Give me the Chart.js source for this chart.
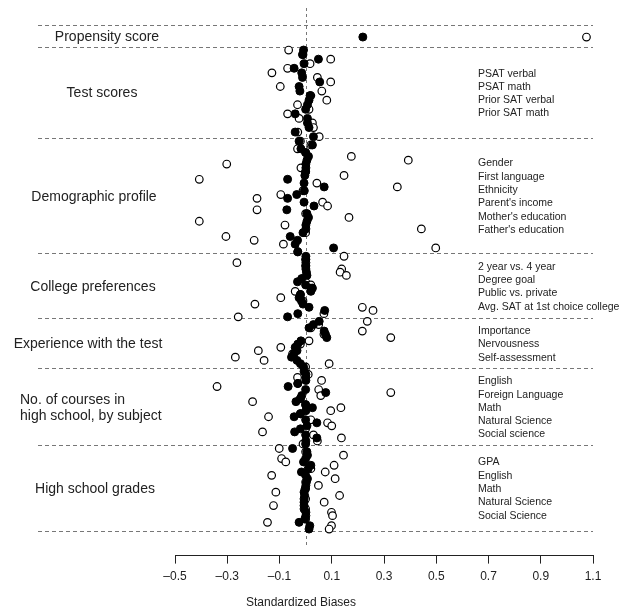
<!DOCTYPE html>
<html>
<head>
<meta charset="utf-8">
<script src="https://cdn.jsdelivr.net/npm/chart.js@4/dist/chart.umd.min.js"></script>
<style>
  body { margin: 0; background: #fff; }
  #wrap { width: 625px; height: 612px; }
</style>
</head>
<body>
<div id="wrap"><canvas id="bias-chart" width="625" height="612"></canvas></div>
<script>
// standardized biases before (open) and after (filled) matching
var tickValues = [-0.5, -0.3, -0.1, 0.1, 0.3, 0.5, 0.7, 0.9, 1.1];

var groupNames = ['Propensity score', 'Test scores', 'Demographic profile', 'College preferences',
    'Experience with the test', 'No. of courses in\nhigh school, by subject', 'High school grades'];

var testVars = ['PSAT verbal', 'PSAT math', 'Prior SAT verbal', 'Prior SAT math'];
var demoVars = ['Gender', 'First language', 'Ethnicity', "Parent's income", "Mother's education", "Father's education"];
var collegeVars = ['2 year vs. 4 year', 'Degree goal', 'Public vs. private', 'Avg. SAT at 1st choice college'];
var experienceVars = ['Importance', 'Nervousness', 'Self-assessment'];
var courseVars = ['English', 'Foreign Language', 'Math', 'Natural Science', 'Social science'];
var gradeVars = ['GPA', 'English', 'Math', 'Natural Science', 'Social Science'];

var propensityBefore = [1.075];
var propensityAfter = [0.219];

var testBefore = [-0.065, -0.01, 0.096, 0.017, -0.069, -0.129, 0.045, 0.096, -0.097, 0.062,
    0.02, 0.081, -0.031, 0.013, -0.069, -0.025, 0.026, 0.03, -0.03, 0.052];
var testAfter = [-0.008, -0.012, 0.049, -0.006, -0.044, -0.015, -0.012, 0.054, -0.025, -0.022,
    0.017, 0.013, 0.007, 0.0, -0.040, 0.007, 0.007, 0.013, -0.040, 0.030];

var demoBefore = [-0.02, 0.02, -0.031, 0.0, 0.175, 0.393, -0.302, -0.018, 0.0, 0.147,
    -0.407, 0.043, 0.351, -0.01, -0.095, -0.186, 0.065, 0.084, -0.186, 0.0,
    0.166, -0.407, -0.079, 0.443, 0.0, -0.305, -0.197, -0.085, 0.498, -0.03];
var demoAfter = [-0.025, 0.026, -0.018, 0.0, 0.011, 0.005, 0.001, 0.001, 0.0, -0.003,
    -0.069, -0.006, 0.071, -0.005, -0.034, -0.069, -0.006, 0.032, -0.072, 0.005,
    0.011, 0.005, 0.001, 0.001, -0.01, -0.059, -0.031, -0.04, 0.107, -0.03];

var collegeBefore = [0.147, 0.0, -0.263, 0.0, 0.138, 0.132, 0.156, -0.01, 0.0, 0.02,
    0.02, -0.040, -0.02, -0.095, -0.01, -0.194, 0.217, 0.258, 0.07, -0.258];
var collegeAfter = [0.001, 0.001, 0.001, 0.001, 0.001, 0.003, 0.005, -0.015, -0.031, 0.0,
    0.026, 0.02, -0.02, -0.025, -0.016, -0.01, 0.013, 0.073, -0.03, -0.069];

var experienceBefore = [0.236, 0.05, 0.02, 0.217, 0.07, 0.326, 0.013, -0.02, -0.095, -0.181,
    -0.05, -0.269, -0.159, 0.090, 0.0];
var experienceAfter = [0.052, 0.03, 0.013, 0.071, 0.076, 0.081, -0.018, -0.03, -0.040, -0.033,
    -0.045, -0.054, -0.033, -0.02, -0.008];

var courseBefore = [0.0, 0.01, -0.031, 0.061, -0.03, -0.339, 0.05, 0.326, 0.058, -0.02,
    -0.203, 0.0, 0.135, 0.096, -0.02, -0.142, 0.02, 0.084, 0.1, 0.0,
    -0.165, 0.03, 0.137, 0.045, -0.01];
var courseAfter = [-0.006, 0.001, 0.001, 0.001, -0.03, -0.067, 0.0, 0.077, -0.015, -0.02,
    -0.037, 0.0, 0.026, 0.001, -0.02, -0.044, 0.0, 0.043, 0.005, -0.02,
    -0.042, 0.0, 0.043, 0.001, 0.0];

var gradeBefore = [-0.101, 0.0, 0.145, -0.092, -0.076, 0.109, 0.02, 0.075, -0.130, 0.113,
    0.0, 0.049, 0.0, -0.114, 0.130, 0.0, 0.071, -0.123, 0.0, 0.099,
    0.103, 0.0, -0.146, 0.099, 0.090];
var gradeAfter = [-0.050, 0.005, 0.007, 0.0, -0.008, 0.020, 0.01, -0.016, 0.0, 0.007,
    0.003, 0.001, -0.002, -0.006, -0.004, -0.006, -0.006, -0.006, -0.006, 0.001,
    0.001, -0.003, -0.025, 0.016, 0.013];

// layout: band edges along the (hidden) vertical scale, top to bottom
var bandEdges = [17, 39, 130, 245, 310, 360, 437, 522];
var yMax = 547;
var labelCenters = [107, 102, 94, 93, 88, 20, 95];

var groups = [
    { name: groupNames[0], vars: [], before: propensityBefore, after: propensityAfter },
    { name: groupNames[1], vars: testVars, before: testBefore, after: testAfter },
    { name: groupNames[2], vars: demoVars, before: demoBefore, after: demoAfter },
    { name: groupNames[3], vars: collegeVars, before: collegeBefore, after: collegeAfter },
    { name: groupNames[4], vars: experienceVars, before: experienceBefore, after: experienceAfter },
    { name: groupNames[5], vars: courseVars, before: courseBefore, after: courseAfter },
    { name: groupNames[6], vars: gradeVars, before: gradeBefore, after: gradeAfter }
];

var openPts = [], filledPts = [];
groups.forEach(function(g, gi) {
    var a = bandEdges[gi], b = bandEdges[gi + 1], n = g.before.length;
    for (var i = 0; i < n; i++) {
        var y = n === 1 ? (a + b) / 2 + 1 : a + 3 + i * (b - a - 4.5) / (n - 1);
        openPts.push({ x: g.before[i], y: y });
        filledPts.push({ x: g.after[i], y: y });
    }
});

var textColor = '#222';
var fontFam = '"Liberation Sans", Arial, sans-serif';

var decorPlugin = {
    id: 'decor',
    beforeDatasetsDraw: function(chart) {
        var ctx = chart.ctx, xs = chart.scales.x, ys = chart.scales.y, area = chart.chartArea;
        ctx.save();
        ctx.strokeStyle = '#777';
        ctx.lineWidth = 1;
        ctx.setLineDash([4, 3]);
        bandEdges.forEach(function(e) {
            var py = Math.round(ys.getPixelForValue(e)) + 0.5;
            ctx.beginPath();
            ctx.moveTo(38, py);
            ctx.lineTo(area.right, py);
            ctx.stroke();
        });
        ctx.setLineDash([3, 3]);
        var px = Math.round(xs.getPixelForValue(0)) + 0.5;
        ctx.beginPath();
        ctx.moveTo(px, area.top);
        ctx.lineTo(px, area.bottom - 8);
        ctx.stroke();
        ctx.restore();
    },
    afterDatasetsDraw: function(chart) {
        var ctx = chart.ctx, ys = chart.scales.y;
        ctx.save();
        ctx.fillStyle = textColor;
        ctx.textBaseline = 'middle';
        groups.forEach(function(g, gi) {
            var mid = ys.getPixelForValue((bandEdges[gi] + bandEdges[gi + 1]) / 2);
            ctx.font = '14px ' + fontFam;
            var lines = g.name.split('\n');
            if (lines.length > 1) {
                ctx.textAlign = 'left';
                ctx.fillText(lines[0], labelCenters[gi], mid - 7);
                ctx.fillText(lines[1], labelCenters[gi], mid + 9);
            } else {
                ctx.textAlign = 'center';
                ctx.fillText(g.name, labelCenters[gi], mid + 1);
            }
            ctx.font = '10.5px ' + fontFam;
            ctx.textAlign = 'left';
            var n = g.vars.length;
            g.vars.forEach(function(v, i) {
                ctx.fillText(v, 478, mid + 1 + (i - (n - 1) / 2) * 13.3);
            });
        });
        ctx.font = '12px ' + fontFam;
        ctx.textAlign = 'center';
        ctx.fillText('Standardized Biases', 301, 603);
        ctx.restore();
    }
};

new Chart(document.getElementById('bias-chart'), {
    type: 'scatter',
    data: {
        datasets: [{
            label: 'After matching',
            data: filledPts,
            backgroundColor: '#000',
            borderColor: '#000',
            borderWidth: 1,
            pointRadius: 4,
            order: 0
        }, {
            label: 'Before matching',
            data: openPts,
            backgroundColor: '#fff',
            borderColor: '#000',
            borderWidth: 1.2,
            pointRadius: 3.8,
            order: 1
        }]
    },
    options: {
        responsive: false,
        animation: false,
        layout: { padding: { left: 175, right: 32, top: 8, bottom: 22 } },
        plugins: { legend: { display: false }, tooltip: { enabled: false } },
        scales: {
            x: {
                type: 'linear',
                min: -0.5,
                max: 1.1,
                afterBuildTicks: function(s) { s.ticks = tickValues.map(function(v) { return { value: v }; }); },
                grid: { drawOnChartArea: false, drawTicks: true, tickLength: 8, color: '#222' },
                border: { display: true, color: '#222', width: 1 },
                ticks: {
                    padding: 6,
                    color: textColor,
                    font: { family: fontFam, size: 12 },
                    maxRotation: 0,
                    autoSkip: false,
                    callback: function(v) { return v < 0 ? '\u2013' + Math.abs(v).toFixed(1) : v.toFixed(1); }
                }
            },
            y: {
                type: 'linear',
                display: false,
                reverse: true,
                min: 0,
                max: yMax
            }
        }
    },
    plugins: [decorPlugin]
});
</script>
</body>
</html>
